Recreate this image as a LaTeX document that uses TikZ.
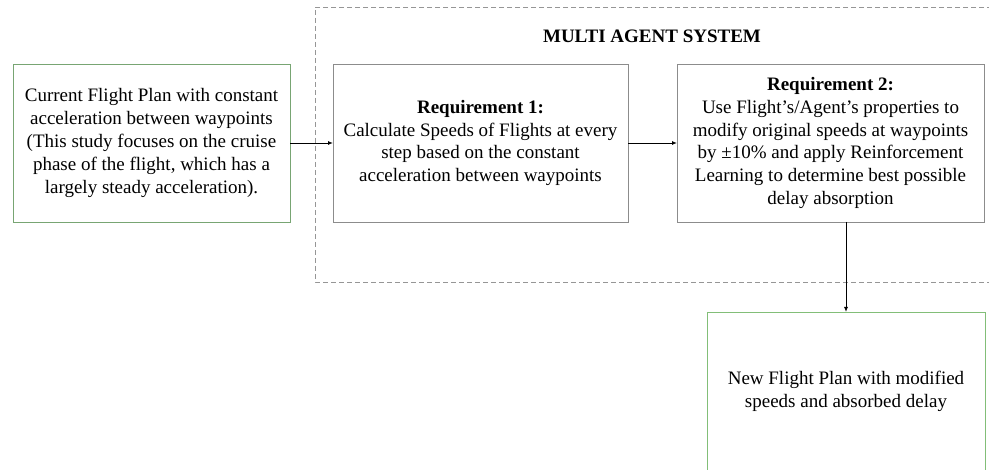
\documentclass[tikz,border=0pt]{standalone}
\usepackage{fontspec}
\setmainfont{Liberation Serif}
\usetikzlibrary{arrows.meta}
\definecolor{boxgray}{RGB}{140,140,140}
\definecolor{boxgreen}{RGB}{120,165,115}
\definecolor{lightgreen}{RGB}{130,190,120}
\definecolor{dashgray}{RGB}{150,150,150}
\begin{document}
\begin{tikzpicture}[x=1pt,y=-1pt,
  every node/.style={inner sep=0pt,outer sep=0pt},
  boxstyle/.style={draw=boxgray,line width=0.8pt},
  txt/.style={align=center,font=\fontsize{19}{22.8}\selectfont},
  conn/.style={line width=0.9pt,-{Latex[length=5pt,width=4pt]}}
]
\useasboundingbox (0,0) rectangle (989,470);
% dashed multi agent region (right side outside picture)
\draw[dashgray,line width=0.7pt,dash pattern=on 5pt off 3pt] (992,7) -- (315,7) -- (315,282) -- (992,282);
\node[font=\fontsize{19}{22}\selectfont\bfseries] (title) at (652,36) {MULTI AGENT SYSTEM};
% boxes
\node[boxstyle,draw=boxgreen,minimum width=277pt,minimum height=158pt] (cur) at (151.5,143) {};
\node[txt] at (cur.center) {Current Flight Plan with constant\\acceleration between waypoints\\(This study focuses on the cruise\\phase of the flight, which has a\\largely steady acceleration).};
\node[boxstyle,minimum width=295pt,minimum height=158pt] (req1) at (480.5,143) {};
\node[txt] at (req1.center) {\textbf{Requirement 1:}\\Calculate Speeds of Flights at every\\step based on the constant\\acceleration between waypoints};
\node[boxstyle,minimum width=307pt,minimum height=158pt] (req2) at (830.5,143) {};
\node[txt] at (req2.center) {\textbf{Requirement 2:}\\Use Flight’s/Agent’s properties to\\modify original speeds at waypoints\\by ±10\% and apply Reinforcement\\Learning to determine best possible\\delay absorption};
\node[boxstyle,draw=lightgreen,minimum width=278pt,minimum height=158pt] (newfp) at (846,391) {};
\node[txt] at (newfp.center) {New Flight Plan with modified\\speeds and absorbed delay};
% connectors
\draw[conn] (cur.east) -- (req1.west);
\draw[conn] (req1.east) -- (req2.west);
\draw[conn] (req2.south -| newfp.north) -- (newfp.north);
\end{tikzpicture}
\end{document}
